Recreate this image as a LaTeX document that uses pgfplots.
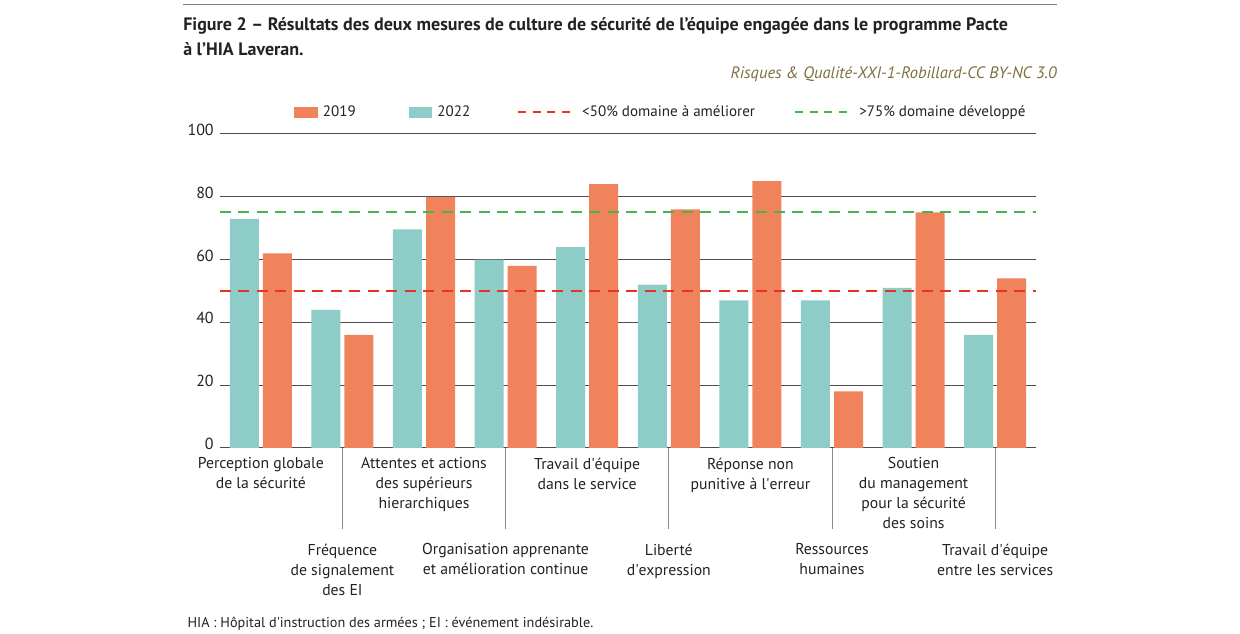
\documentclass[border=0pt]{standalone}
\usepackage{fontspec}
\setmainfont{PT Sans}
\usepackage{pgfplots}
\pgfplotsset{compat=1.18}
\definecolor{cnineteen}{HTML}{F0825C}
\definecolor{ctwentytwo}{HTML}{8ECCC7}
\definecolor{cred}{HTML}{E63323}
\definecolor{cgreen}{HTML}{45B649}
\definecolor{gridgray}{HTML}{4D4D4D}
\definecolor{tickgray}{HTML}{8C8C8C}
\definecolor{rulegray}{HTML}{7A7A7A}
\definecolor{srccol}{HTML}{7F6E3E}
\definecolor{txt}{HTML}{222222}
\newcommand\labfont{\fontsize{11.8}{15}\selectfont}
\begin{document}
\begin{tikzpicture}
\path[use as bounding box] (0pt,0pt) rectangle (930pt,475.5pt);
\draw[line width=0.75pt, color=rulegray] (137.25pt,471.75pt) -- (792.75pt,471.75pt);
\node[anchor=base west, inner sep=0pt, text=txt, font=\bfseries\fontsize{13.5}{15}\selectfont] at (137.25pt,452.5pt) {Figure 2 – Résultats des deux mesures de culture de sécurité de l’équipe engagée dans le programme Pacte};
\node[anchor=base west, inner sep=0pt, text=txt, font=\bfseries\fontsize{13.5}{15}\selectfont] at (137.25pt,433.5pt) {à l’HIA Laveran.};
\node[anchor=base east, inner sep=0pt, text=srccol, font=\itshape\fontsize{12.4}{14}\selectfont] at (792.75pt,416.25pt) {Risques \& Qualité-XXI-1-Robillard-CC BY-NC 3.0};
\node[anchor=base west, inner sep=0pt, text=txt, font=\fontsize{10.7}{12}\selectfont] at (140.5pt,4.7pt) {HIA : Hôpital d\textquotesingle instruction des armées ; EI : événement indésirable.};
\begin{axis}[
  at={(165pt,139.5pt)}, anchor=south west,
  scale only axis, width=612pt, height=235.5pt,
  xmin=-0.5, xmax=9.5, ymin=0, ymax=100,
  ytick={0,20,40,60,80,100},
  ymajorgrids, grid style={line width=0.75pt, color=gridgray},
  axis line style={draw=none},
  major tick length=0pt,
  xtick pos=left, ytick pos=left,
  /pgf/number format/assume math mode=true,
  yticklabel style={font=\fontsize{12}{14}\selectfont, text=txt, yshift=3pt, xshift=-1.2pt},
  xticklabel style={font=\labfont, align=center, text=txt, yshift=-3.75pt},
  xtick={0,2,4,6,8},
  xticklabels={{Perception globale\\de la sécurité},{Attentes et actions\\des supérieurs\\hierarchiques},{Travail d\textquotesingle équipe\\dans le service},{Réponse non\\punitive à l\textquotesingle erreur},{Soutien\\du management\\pour la sécurité\\des soins}},
  extra x ticks={1,3,5,7,9},
  extra x tick labels={{Fréquence\\de signalement\\des EI},{Organisation apprenante\\et amélioration continue},{Liberté\\d\textquotesingle expression},{Ressources\\humaines},{Travail d\textquotesingle équipe\\entre les services}},
  extra x tick style={major tick length=60.75pt, tick align=outside, major tick style={line width=0.75pt, color=tickgray}, xticklabel style={yshift=-3.75pt}},
  legend columns=4,
  legend style={at={(0.0907,1.0685)}, anchor=west, draw=none, fill=none, inner sep=0pt,
    font=\fontsize{11.3}{14}\selectfont, text=txt,
    /tikz/every odd column/.append style={column sep=2pt},
    /tikz/every even column/.append style={column sep=27.2pt}},
  clip=false,
]
\addplot[ybar, bar width=21.75pt, bar shift=12.4pt, fill=cnineteen, draw=none,
  legend image code/.code={\fill[cnineteen] (0pt,-4.1pt) rectangle (17.5pt,4.1pt);}]
  coordinates {(0,62) (1,36) (2,80) (3,58) (4,84) (5,76) (6,85) (7,18) (8,75) (9,54)};
\addlegendentry{2019\rule{10.5pt}{0pt}}
\addplot[ybar, bar width=21.75pt, bar shift=-12.4pt, fill=ctwentytwo, draw=none,
  legend image code/.code={\fill[ctwentytwo] (0pt,-4.1pt) rectangle (17.5pt,4.1pt);}]
  coordinates {(0,73) (1,44) (2,69.6) (3,60) (4,64) (5,52) (6,47) (7,47) (8,51) (9,36)};
\addlegendentry{2022\rule{5.8pt}{0pt}}
\addplot[color=cred, line width=1.5pt, dash pattern=on 8.25pt off 5.6pt,
  legend image code/.code={\draw[color=cred, line width=1.5pt, dash pattern=on 6pt off 5pt] (0pt,0pt) -- (43.5pt,0pt);}]
  coordinates {(-0.5,50) (9.5,50)};
\addlegendentry{<50\% domaine à améliorer}
\addplot[color=cgreen, line width=1.5pt, dash pattern=on 8.25pt off 5.6pt,
  legend image code/.code={\draw[color=cgreen, line width=1.5pt, dash pattern=on 6pt off 5pt] (0pt,0pt) -- (43.5pt,0pt);}]
  coordinates {(-0.5,75) (9.5,75)};
\addlegendentry{>75\% domaine développé}
\end{axis}
\end{tikzpicture}
\end{document}
